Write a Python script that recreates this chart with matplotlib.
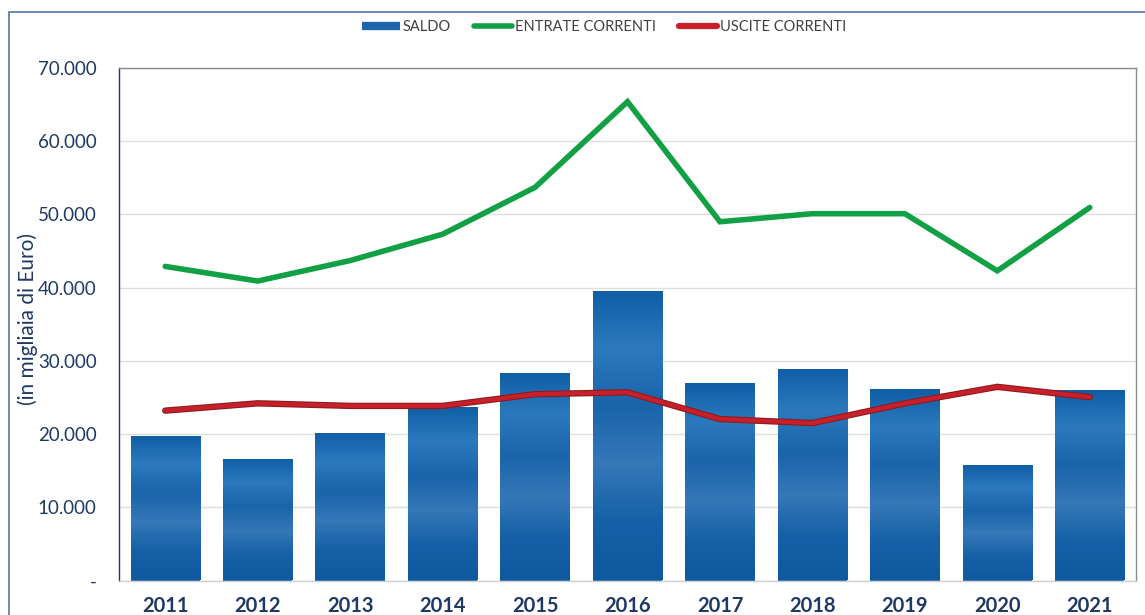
import matplotlib
matplotlib.use("Agg")
import matplotlib.pyplot as plt
import numpy as np
from matplotlib.lines import Line2D
from matplotlib.patches import Rectangle
from matplotlib.colors import LinearSegmentedColormap
from matplotlib.ticker import FixedLocator

years = ["2011", "2012", "2013", "2014", "2015", "2016", "2017", "2018", "2019", "2020", "2021"]
saldo = [19800, 16600, 20100, 23700, 28400, 39600, 27000, 28900, 26200, 15800, 26000]
entrate = [42900, 40900, 43700, 47300, 53700, 65400, 49000, 50100, 50100, 42300, 50950]
uscite = [23200, 24200, 23850, 23850, 25450, 25700, 22050, 21500, 24200, 26450, 25050]
yticks = [0, 10000, 20000, 30000, 40000, 50000, 60000, 70000]
ytick_labels = ["-", "10.000", "20.000", "30.000", "40.000", "50.000", "60.000", "70.000"]

plt.rcParams['font.family'] = ['Lato', 'DejaVu Sans']

W, H = 1145, 615
fig = plt.figure(figsize=(W / 100, H / 100), dpi=100)
fig.patch.set_facecolor("white")

# outer frame
fig.patches.append(Rectangle((9 / W, -0.05), 1.2, 1 - 12 / H + 0.05, transform=fig.transFigure,
                             fill=False, edgecolor="#4f7aa6", linewidth=1.2, zorder=0))

ax = fig.add_axes([119 / W, 1 - 580.5 / H, (1136 - 119) / W, (580.5 - 68) / H])
x = np.arange(len(years))

navy = "#1f3864"
bars = ax.bar(x, saldo, width=0.75, color="#1c65ab", zorder=2)
cmap = LinearSegmentedColormap.from_list("b", ["#0f5ea5", "#2c79bd", "#1a64aa", "#3478b8", "#1560a6", "#0f5a9f"])
grad = np.linspace(0, 1, 256).reshape(-1, 1)
for b in bars:
    x0, y0 = b.get_x(), b.get_y()
    im = ax.imshow(grad, extent=[x0, x0 + b.get_width(), y0, y0 + b.get_height()],
                   cmap=cmap, aspect="auto", origin="upper", zorder=2.1)
    im.set_clip_path(b)

ax.plot(x, entrate, color="#11a044", lw=4, solid_joinstyle="miter", solid_capstyle="round", zorder=4)
ax.plot(x, uscite, color="#8e1a1f", lw=4.6, solid_joinstyle="miter", solid_capstyle="round", zorder=4)
ax.plot(x, uscite, color="#c8202a", lw=3.0, solid_joinstyle="miter", solid_capstyle="round", zorder=4.1)

ax.set_xlim(-0.5, len(years) - 0.5)
ax.set_ylim(0, 70000)
ax.yaxis.set_major_locator(FixedLocator(yticks))
ax.set_yticklabels(ytick_labels)
ax.set_xticks(x)
ax.set_xticklabels(years, fontsize=14.5, fontweight="bold", color=navy)
ax.tick_params(axis="y", length=0, pad=16, labelsize=13.5, labelcolor=navy)
ax.tick_params(axis="x", length=0, pad=11)
ax.grid(axis="y", color="#dedede", lw=1, zorder=0)
ax.set_axisbelow(True)
for s in ["top", "right"]:
    ax.spines[s].set_color("#8a8a8a")
    ax.spines[s].set_linewidth(1.0)
ax.spines["left"].set_color("#1f3864")
ax.spines["left"].set_linewidth(1.0)
ax.spines["bottom"].set_color("#d0d0d0")
ax.spines["bottom"].set_linewidth(1.0)

ax.set_ylabel("(in migliaia di Euro)", fontsize=15, color=navy)
ax.yaxis.set_label_coords(-(119 - 38) / (1136 - 119), 0.51)

handles = [Line2D([], [], color="#1f65ab", lw=6, solid_capstyle="butt"),
           Line2D([], [], color="#11a044", lw=4, solid_capstyle="round"),
           Line2D([], [], color="#c8202a", lw=4.5, solid_capstyle="round")]
labels = ["SALDO", "ENTRATE CORRENTI", "USCITE CORRENTI"]
leg = fig.legend(handles, labels, loc="center", bbox_to_anchor=(604 / W, 1 - 27 / H), ncol=3,
                 frameon=False, fontsize=10.5, handlelength=2.6, handletextpad=0.2, columnspacing=1.6)
for t in leg.get_texts():
    t.set_color("#404040")

fig.savefig("out.png", dpi=100, facecolor="white")
